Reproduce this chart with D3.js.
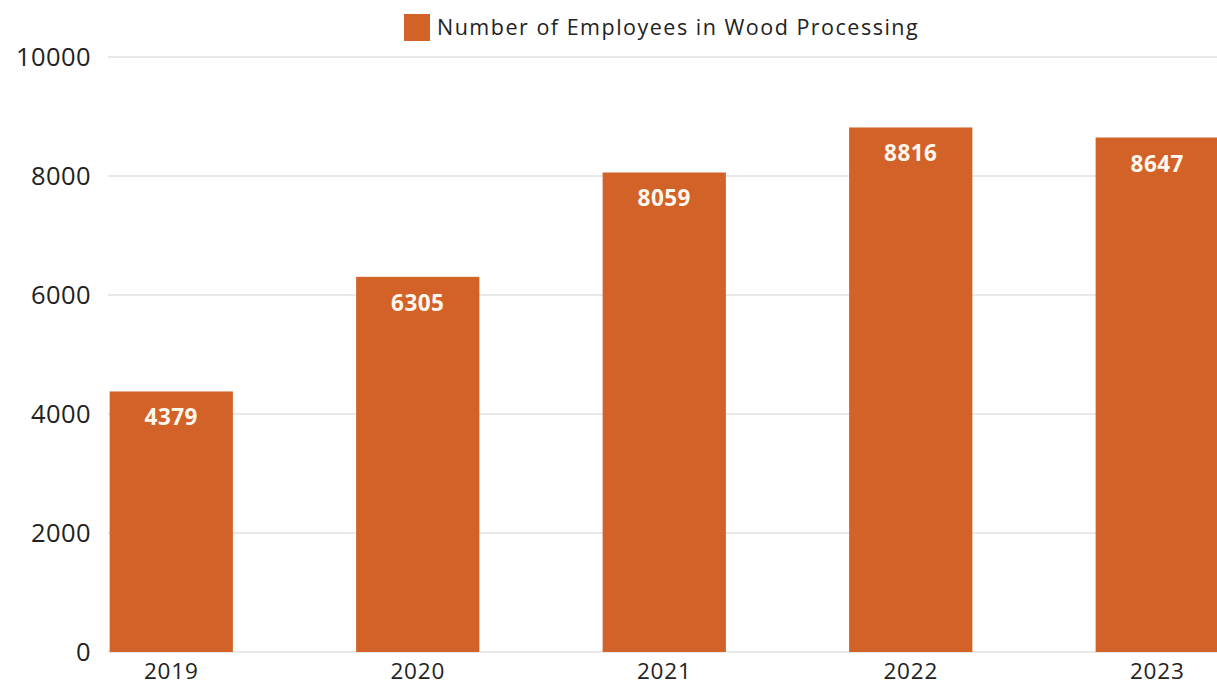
<!DOCTYPE html>
<html>
<head>
<meta charset="utf-8">
<script src="https://cdn.jsdelivr.net/npm/d3@7"></script>
<style>
  html, body { margin: 0; padding: 0; background: #fff; overflow: hidden; }
  svg { display: block; }
</style>
</head>
<body>
<svg id="chart" width="1217" height="686"></svg>
<script>
// Employees in wood processing, by year
const years = ["2019", "2020", "2021", "2022", "2023"];
const employees = [4379, 6305, 8059, 8816, 8647];
const yTicks = [0, 2000, 4000, 6000, 8000, 10000];
const seriesName = "Number of Employees in Wood Processing";

const barColor = "#d26227";
const gridColor = "#e2e2e2";
const textColor = "#222";
const font = "'Open Sans', sans-serif";

const svg = d3.select("#chart");
const W = 1217;

const x = d3.scaleBand()
  .domain(years)
  .range([48, 1280.5])
  .paddingInner(0.5)
  .paddingOuter(0.25);

const y = d3.scaleLinear()
  .domain([0, 10000])
  .range([652, 57]);

// Gridlines
svg.append("g")
  .selectAll("line")
  .data(yTicks)
  .join("line")
  .attr("x1", 108)
  .attr("x2", W)
  .attr("y1", d => y(d))
  .attr("y2", d => y(d))
  .attr("stroke", gridColor)
  .attr("stroke-width", 1.5);

// Y axis labels
const yAxis = d3.axisLeft(y).tickValues(yTicks).tickSize(0).tickPadding(0).tickFormat(d3.format("d"));
svg.append("g")
  .attr("transform", "translate(91,0)")
  .call(yAxis)
  .call(g => g.select(".domain").remove())
  .selectAll("text")
  .attr("font-family", font)
  .attr("font-size", 25.5)
  .attr("letter-spacing", 0.4)
  .attr("fill", textColor)
  .attr("dy", "0.35em");

const rows = years.map((yr, i) => ({ yr, v: employees[i] }));

// Bars
svg.append("g")
  .selectAll("rect")
  .data(rows)
  .join("rect")
  .attr("x", d => x(d.yr))
  .attr("y", d => y(d.v))
  .attr("width", x.bandwidth())
  .attr("height", d => y(0) - y(d.v))
  .attr("fill", barColor);

// Value labels inside the bars
svg.append("g")
  .selectAll("text")
  .data(rows)
  .join("text")
  .attr("x", d => x(d.yr) + x.bandwidth() / 2)
  .attr("y", d => y(d.v) + 34)
  .attr("text-anchor", "middle")
  .attr("font-family", font)
  .attr("font-weight", 700)
  .attr("font-size", 22.5)
  .attr("letter-spacing", 0.5)
  .attr("fill", "#fff8ef")
  .text(d => d.v);

// X axis labels
const xAxis = d3.axisBottom(x).tickSize(0).tickPadding(0);
svg.append("g")
  .attr("transform", "translate(0,679)")
  .call(xAxis)
  .call(g => g.select(".domain").remove())
  .selectAll("text")
  .attr("font-family", font)
  .attr("font-size", 22.5)
  .attr("letter-spacing", 0.8)
  .attr("fill", textColor)
  .attr("dy", 0)
  .attr("y", 0);

// Legend
const legend = svg.append("g").attr("transform", "translate(404,14)");
legend.append("rect")
  .attr("width", 26)
  .attr("height", 27)
  .attr("fill", barColor);
legend.append("text")
  .attr("x", 33)
  .attr("y", 21)
  .attr("font-family", font)
  .attr("font-size", 21.5)
  .attr("letter-spacing", 1.5)
  .attr("fill", textColor)
  .text(seriesName);
</script>
</body>
</html>
